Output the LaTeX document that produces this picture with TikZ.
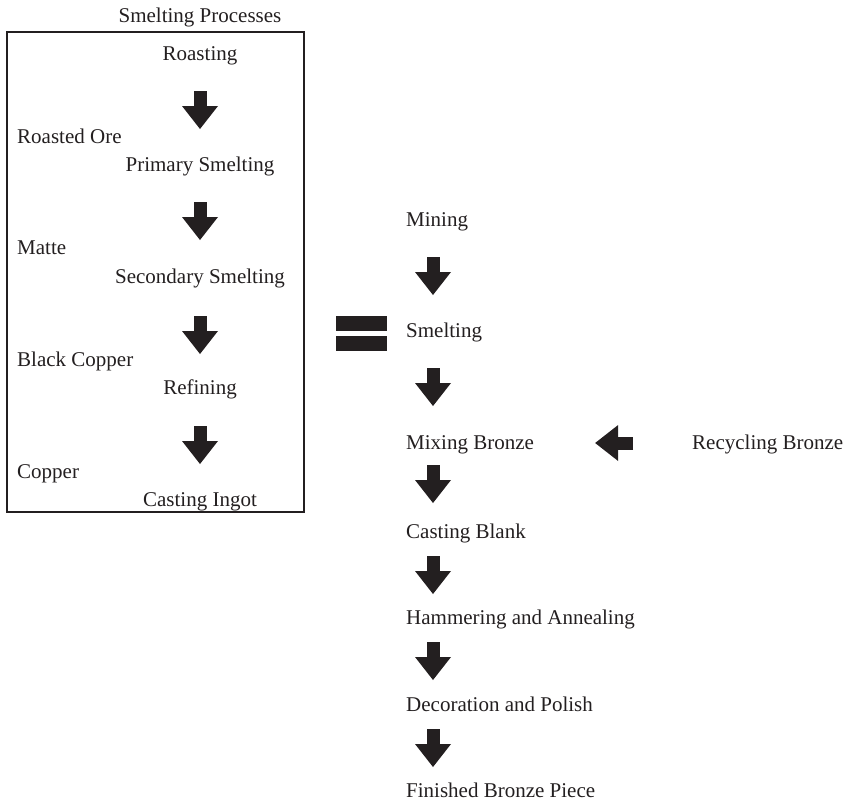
\documentclass[tikz,border=0pt]{standalone}
\usepackage{fontspec}
\setmainfont{Liberation Serif}
\usepackage{xcolor}
\usetikzlibrary{arrows.meta}
\definecolor{inkblack}{HTML}{231F20}

\begin{document}
\begin{tikzpicture}[x=1pt, y=-1pt,
        step label/.style={inner sep=0pt, font=\fontsize{21}{25}\selectfont, text=inkblack},
        blockarrow/.style={line width=13pt, inkblack, -{Triangle[width=36pt, length=23pt, line width=0pt]}}]
        \useasboundingbox (0,0) rectangle (849,804);
        % smelting box
        \draw[line width=1.2pt, inkblack] (7,32) rectangle (304,512);
        \node[step label, anchor=base] (title) at (200,22) {Smelting Processes};
        \node[step label, anchor=base] (roast) at (200,60) {Roasting};
        \node[step label, anchor=base west] (roastore) at (17,143) {Roasted Ore};
        \node[step label, anchor=base] (prim) at (200,171) {Primary Smelting};
        \node[step label, anchor=base west] (matte) at (17,254) {Matte};
        \node[step label, anchor=base] (second) at (200,283) {Secondary Smelting};
        \node[step label, anchor=base west] (blackcu) at (17,366) {Black Copper};
        \node[step label, anchor=base] (refine) at (200,394) {Refining};
        \node[step label, anchor=base west] (copper) at (17,478) {Copper};
        \node[step label, anchor=base] (ingot) at (200,506) {Casting Ingot};
        \draw[blockarrow, shorten <=31pt, shorten >=42pt] (roast.base) -- (prim.base);
        \draw[blockarrow, shorten <=31pt, shorten >=43pt] (prim.base) -- (second.base);
        \draw[blockarrow, shorten <=33pt, shorten >=40pt] (second.base) -- (refine.base);
        \draw[blockarrow, shorten <=32pt, shorten >=42pt] (refine.base) -- (ingot.base);
        % equals sign
        \fill[inkblack] (336,316) rectangle (387,331);
        \fill[inkblack] (336,336) rectangle (387,351);
        % main process
        \node[step label, anchor=base west] (mining) at (406,226) {Mining};
        \node[step label, anchor=base west] (smelt) at (406,337) {Smelting};
        \node[step label, anchor=base west] (mixb) at (406,449) {Mixing Bronze};
        \node[step label, anchor=base west] (recyc) at (692,449) {Recycling Bronze};
        \node[step label, anchor=base west] (castb) at (406,538) {Casting Blank};
        \node[step label, anchor=base west] (hammer) at (406,624) {Hammering and Annealing};
        \node[step label, anchor=base west] (decor) at (406,711) {Decoration and Polish};
        \node[step label, anchor=base west] (finish) at (406,797) {Finished Bronze Piece};
        \draw[blockarrow, shorten <=31pt, shorten >=42pt] ([xshift=27pt]mining.base west) -- ([xshift=27pt]smelt.base west);
        \draw[blockarrow, shorten <=31pt, shorten >=43pt] ([xshift=27pt]smelt.base west) -- ([xshift=27pt]mixb.base west);
        \draw[blockarrow, shorten <=16pt, shorten >=35pt] ([xshift=27pt]mixb.base west) -- ([xshift=27pt]castb.base west);
        \draw[blockarrow, shorten <=18pt, shorten >=30pt] ([xshift=27pt]castb.base west) -- ([xshift=27pt]hammer.base west);
        \draw[blockarrow, shorten <=18pt, shorten >=31pt] ([xshift=27pt]hammer.base west) -- ([xshift=27pt]decor.base west);
        \draw[blockarrow, shorten <=18pt, shorten >=30pt] ([xshift=27pt]decor.base west) -- ([xshift=27pt]finish.base west);
        \draw[blockarrow, shorten <=59pt, shorten >=61pt] ([yshift=6pt]recyc.base west) -- ([yshift=6pt]mixb.base east);
\end{tikzpicture}
\end{document}
